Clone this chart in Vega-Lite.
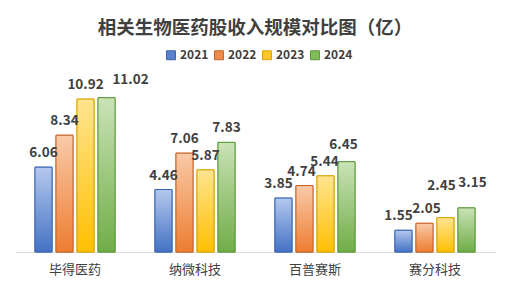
{
  "$schema": "https://vega.github.io/schema/vega-lite/v6.json",
  "autosize": {"type": "none"},
  "width": 480,
  "height": 182,
  "padding": {"left": 15, "top": 70, "right": 13, "bottom": 37},
  "background": "white",
  "config": {
    "view": {"stroke": null},
    "font": "Noto Sans CJK SC"
  },
  "title": {
    "text": "相关生物医药股收入规模对比图（亿）",
    "fontSize": 18.5,
    "fontWeight": "bold",
    "color": "#404040",
    "anchor": "middle",
    "offset": 12,
    "font": "Noto Sans CJK SC"
  },
  "data": {
    "values": [
      {"company": "毕得医药", "year": "2021", "value": 6.06},
      {"company": "毕得医药", "year": "2022", "value": 8.34},
      {"company": "毕得医药", "year": "2023", "value": 10.92},
      {"company": "毕得医药", "year": "2024", "value": 11.02},
      {"company": "纳微科技", "year": "2021", "value": 4.46},
      {"company": "纳微科技", "year": "2022", "value": 7.06},
      {"company": "纳微科技", "year": "2023", "value": 5.87},
      {"company": "纳微科技", "year": "2024", "value": 7.83},
      {"company": "百普赛斯", "year": "2021", "value": 3.85},
      {"company": "百普赛斯", "year": "2022", "value": 4.74},
      {"company": "百普赛斯", "year": "2023", "value": 5.44},
      {"company": "百普赛斯", "year": "2024", "value": 6.45},
      {"company": "赛分科技", "year": "2021", "value": 1.55},
      {"company": "赛分科技", "year": "2022", "value": 2.05},
      {"company": "赛分科技", "year": "2023", "value": 2.45},
      {"company": "赛分科技", "year": "2024", "value": 3.15}
    ]
  },
  "encoding": {
    "x": {
      "field": "company", "type": "nominal", "sort": null,
      "scale": {"paddingInner": 0.333, "paddingOuter": 0.1667},
      "axis": {
        "title": null, "labelAngle": 0, "ticks": false,
        "domainColor": "#d9d9d9", "domainWidth": 1,
        "labelFontSize": 13, "labelColor": "#404040", "labelPadding": 11,
        "labelFont": "Noto Sans CJK SC"
      }
    },
    "xOffset": {
      "field": "year", "type": "nominal",
      "scale": {"paddingInner": 0.19, "paddingOuter": 0}
    },
    "y": {
      "field": "value", "type": "quantitative",
      "scale": {"domain": [0, 13], "nice": false},
      "axis": null
    }
  },
  "layer": [
    {
      "mark": {"type": "bar", "strokeWidth": 1},
      "encoding": {
        "color": {
          "field": "year", "type": "nominal",
          "scale": {"domain": ["2021", "2022", "2023", "2024"], "range": ["#5a82cc", "#ee8a4a", "#fcc52a", "#82bb5a"]},
          "legend": {
            "orient": "none", "legendX": 150, "legendY": -21, "direction": "horizontal", "title": null,
            "symbolType": "square", "symbolSize": 80, "symbolStrokeWidth": 1,
            "labelFontSize": 12, "labelFontWeight": "bold", "labelColor": "#404040",
            "columnPadding": 3, "symbolOffset": 0, "labelOffset": 3,
            "labelFont": "Noto Sans CJK SC"
          }
        },
        "stroke": {
          "field": "year", "type": "nominal",
          "scale": {"domain": ["2021", "2022", "2023", "2024"], "range": ["#3a64b0", "#c8652a", "#d9a400", "#5b9a3a"]},
          "legend": null
        }
      }
    },
    {
      "transform": [{"filter": "datum.year == '2021'"}],
      "mark": {"type": "bar", "stroke": "#3a64b0", "strokeWidth": 1,
        "fill": {"gradient": "linear", "x1": 0, "y1": 0, "x2": 0, "y2": 1,
          "stops": [{"offset": 0, "color": "#b4c8ee"}, {"offset": 1, "color": "#4472c4"}]}}
    },
    {
      "transform": [{"filter": "datum.year == '2022'"}],
      "mark": {"type": "bar", "stroke": "#c8652a", "strokeWidth": 1,
        "fill": {"gradient": "linear", "x1": 0, "y1": 0, "x2": 0, "y2": 1,
          "stops": [{"offset": 0, "color": "#f9caa8"}, {"offset": 1, "color": "#ed7d31"}]}}
    },
    {
      "transform": [{"filter": "datum.year == '2023'"}],
      "mark": {"type": "bar", "stroke": "#d9a400", "strokeWidth": 1,
        "fill": {"gradient": "linear", "x1": 0, "y1": 0, "x2": 0, "y2": 1,
          "stops": [{"offset": 0, "color": "#ffe490"}, {"offset": 1, "color": "#ffc000"}]}}
    },
    {
      "transform": [{"filter": "datum.year == '2024'"}],
      "mark": {"type": "bar", "stroke": "#5b9a3a", "strokeWidth": 1,
        "fill": {"gradient": "linear", "x1": 0, "y1": 0, "x2": 0, "y2": 1,
          "stops": [{"offset": 0, "color": "#c9e3b6"}, {"offset": 1, "color": "#70ad47"}]}}
    },
    {
      "transform": [{"filter": "datum.company != '赛分科技' && datum.company != '百普赛斯' && !(datum.company == '毕得医药' && datum.year == '2024')"}],
      "mark": {"type": "text", "baseline": "alphabetic", "dy": -10, "fontSize": 13.5, "fontWeight": "bold", "color": "#404040", "font": "Noto Sans CJK SC"},
      "encoding": {"text": {"field": "value", "type": "quantitative", "format": ".2f"}}
    },
    {
      "transform": [{"filter": "datum.company == '毕得医药' && datum.year == '2024'"}],
      "mark": {"type": "text", "baseline": "alphabetic", "dy": -14, "dx": 24, "fontSize": 13.5, "fontWeight": "bold", "color": "#404040", "font": "Noto Sans CJK SC"},
      "encoding": {"text": {"field": "value", "type": "quantitative", "format": ".2f"}}
    },
    {
      "transform": [{"filter": "datum.company == '百普赛斯' && datum.year == '2021'"}],
      "mark": {"type": "text", "baseline": "alphabetic", "dy": -10, "dx": -5, "fontSize": 13.5, "fontWeight": "bold", "color": "#404040", "font": "Noto Sans CJK SC"},
      "encoding": {"text": {"field": "value", "type": "quantitative", "format": ".2f"}}
    },
    {
      "transform": [{"filter": "datum.company == '百普赛斯' && datum.year == '2024'"}],
      "mark": {"type": "text", "baseline": "alphabetic", "dy": -13, "dx": -3, "fontSize": 13.5, "fontWeight": "bold", "color": "#404040", "font": "Noto Sans CJK SC"},
      "encoding": {"text": {"field": "value", "type": "quantitative", "format": ".2f"}}
    },
    {
      "transform": [{"filter": "datum.company == '百普赛斯' && datum.year == '2022'"}],
      "mark": {"type": "text", "baseline": "alphabetic", "dy": -10, "dx": -3, "fontSize": 13.5, "fontWeight": "bold", "color": "#404040", "font": "Noto Sans CJK SC"},
      "encoding": {"text": {"field": "value", "type": "quantitative", "format": ".2f"}}
    },
    {
      "transform": [{"filter": "datum.company == '百普赛斯' && datum.year == '2023'"}],
      "mark": {"type": "text", "baseline": "alphabetic", "dy": -10, "dx": -1, "fontSize": 13.5, "fontWeight": "bold", "color": "#404040", "font": "Noto Sans CJK SC"},
      "encoding": {"text": {"field": "value", "type": "quantitative", "format": ".2f"}}
    },
    {
      "transform": [{"filter": "datum.company == '赛分科技' && datum.year == '2021'"}],
      "mark": {"type": "text", "baseline": "alphabetic", "dy": -10, "dx": -5, "fontSize": 13.5, "fontWeight": "bold", "color": "#404040", "font": "Noto Sans CJK SC"},
      "encoding": {"text": {"field": "value", "type": "quantitative", "format": ".2f"}}
    },
    {
      "transform": [{"filter": "datum.company == '赛分科技' && datum.year == '2022'"}],
      "mark": {"type": "text", "baseline": "alphabetic", "dy": -10, "dx": 2, "fontSize": 13.5, "fontWeight": "bold", "color": "#404040", "font": "Noto Sans CJK SC"},
      "encoding": {"text": {"field": "value", "type": "quantitative", "format": ".2f"}}
    },
    {
      "transform": [{"filter": "datum.company == '赛分科技' && datum.year == '2023'"}],
      "mark": {"type": "text", "baseline": "alphabetic", "dy": -28, "dx": -4, "fontSize": 13.5, "fontWeight": "bold", "color": "#404040", "font": "Noto Sans CJK SC"},
      "encoding": {"text": {"field": "value", "type": "quantitative", "format": ".2f"}}
    },
    {
      "transform": [{"filter": "datum.company == '赛分科技' && datum.year == '2024'"}],
      "mark": {"type": "text", "baseline": "alphabetic", "dy": -21, "dx": 6, "fontSize": 13.5, "fontWeight": "bold", "color": "#404040", "font": "Noto Sans CJK SC"},
      "encoding": {"text": {"field": "value", "type": "quantitative", "format": ".2f"}}
    }
  ]
}
